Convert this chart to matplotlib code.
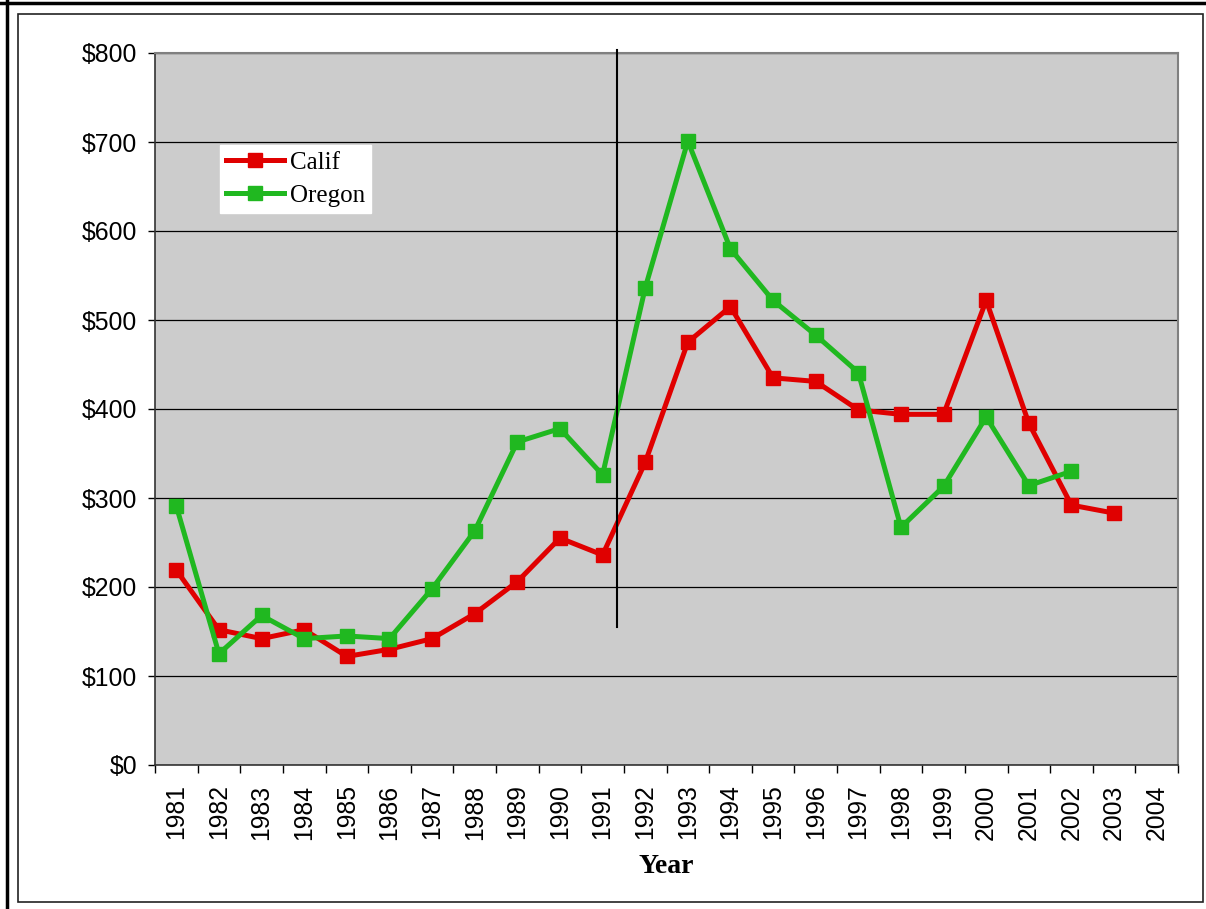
import matplotlib.pyplot as plt
import numpy as np
from matplotlib.patches import Rectangle
from matplotlib.lines import Line2D

years = list(range(1981, 2005))
calif = [219, 152, 142, 152, 122, 130, 142, 170, 206, 255, 236, 340, 475, 515,
         435, 431, 399, 394, 394, 522, 384, 292, 283, None]
oregon = [291, 125, 168, 142, 145, 142, 198, 263, 363, 378, 326, 536, 701, 580,
          522, 483, 441, 267, 313, 391, 314, 330, None, None]
y_ticks = [0, 100, 200, 300, 400, 500, 600, 700, 800]

RED = '#e00000'
GREEN = '#20b820'
TICK_FONT = 17.8


def to_array(values):
    return np.array([np.nan if v is None else v for v in values], dtype=float)


def main():
    fig = plt.figure(figsize=(12.06, 9.09), dpi=100)
    ax = fig.add_axes([155 / 1206, 1 - 765 / 909, 1023 / 1206, 712 / 909])
    ax.set_facecolor('#cccccc')

    x = np.arange(len(years))
    ax.plot(x, to_array(calif), color=RED, lw=3.6, marker='s', ms=10,
            mec=RED, mfc=RED, label='Calif', zorder=4)
    ax.plot(x, to_array(oregon), color=GREEN, lw=3.6, marker='s', ms=10,
            mec=GREEN, mfc=GREEN, label='Oregon', zorder=4)

    # marker line between 1991 and 1992
    ax.add_line(Line2D([10.33, 10.33], [155, 803], color='black', lw=1.5,
                       clip_on=False, zorder=5))

    ax.set_xlim(-0.5, len(years) - 0.5)
    ax.set_ylim(0, 800)
    ax.set_yticks(y_ticks)
    ax.set_yticklabels([f'${v}' for v in y_ticks], fontsize=TICK_FONT,
                       family='Liberation Sans')
    ax.set_xticks(x)
    ax.set_xticklabels([str(y) for y in years], rotation=90, fontsize=TICK_FONT,
                       family='Liberation Sans')
    ax.set_xticks(np.arange(len(years) + 1) - 0.5, minor=True)
    ax.tick_params(axis='x', which='major', length=0, pad=14)
    ax.tick_params(axis='x', which='minor', length=6, width=1, direction='out')
    ax.tick_params(axis='y', length=5, width=1, direction='out', pad=8)
    ax.yaxis.grid(True, color='black', lw=0.9)
    ax.set_axisbelow(True)

    for side in ['top', 'right']:
        ax.spines[side].set_color('#808080')
        ax.spines[side].set_linewidth(1.5)
    for side in ['left', 'bottom']:
        ax.spines[side].set_color('#333333')
        ax.spines[side].set_linewidth(1.2)

    ax.set_xlabel('Year', fontsize=20, fontweight='bold',
                  family='Liberation Serif', labelpad=10)

    leg = ax.legend(loc='upper left', bbox_to_anchor=(0.0635, 0.871),
                    borderaxespad=0, fancybox=False, framealpha=1,
                    prop={'family': 'Liberation Serif', 'size': 18},
                    handlelength=2.3, handletextpad=0.25, labelspacing=0.42,
                    borderpad=0.25)
    leg.get_frame().set_facecolor('white')
    leg.get_frame().set_edgecolor('white')

    # page frame
    fig.add_artist(Rectangle((18 / 1206, 1 - 902 / 909), 1185 / 1206, 888 / 909,
                             transform=fig.transFigure, fill=False,
                             edgecolor='#222222', lw=1.2))
    fig.add_artist(Line2D([0, 1], [1 - 3 / 909, 1 - 3 / 909],
                          transform=fig.transFigure, color='black', lw=2.5))
    fig.add_artist(Line2D([7 / 1206, 7 / 1206], [0, 1],
                          transform=fig.transFigure, color='black', lw=2.5))

    fig.savefig('out.png', dpi=100)


if __name__ == "__main__":
    main()
